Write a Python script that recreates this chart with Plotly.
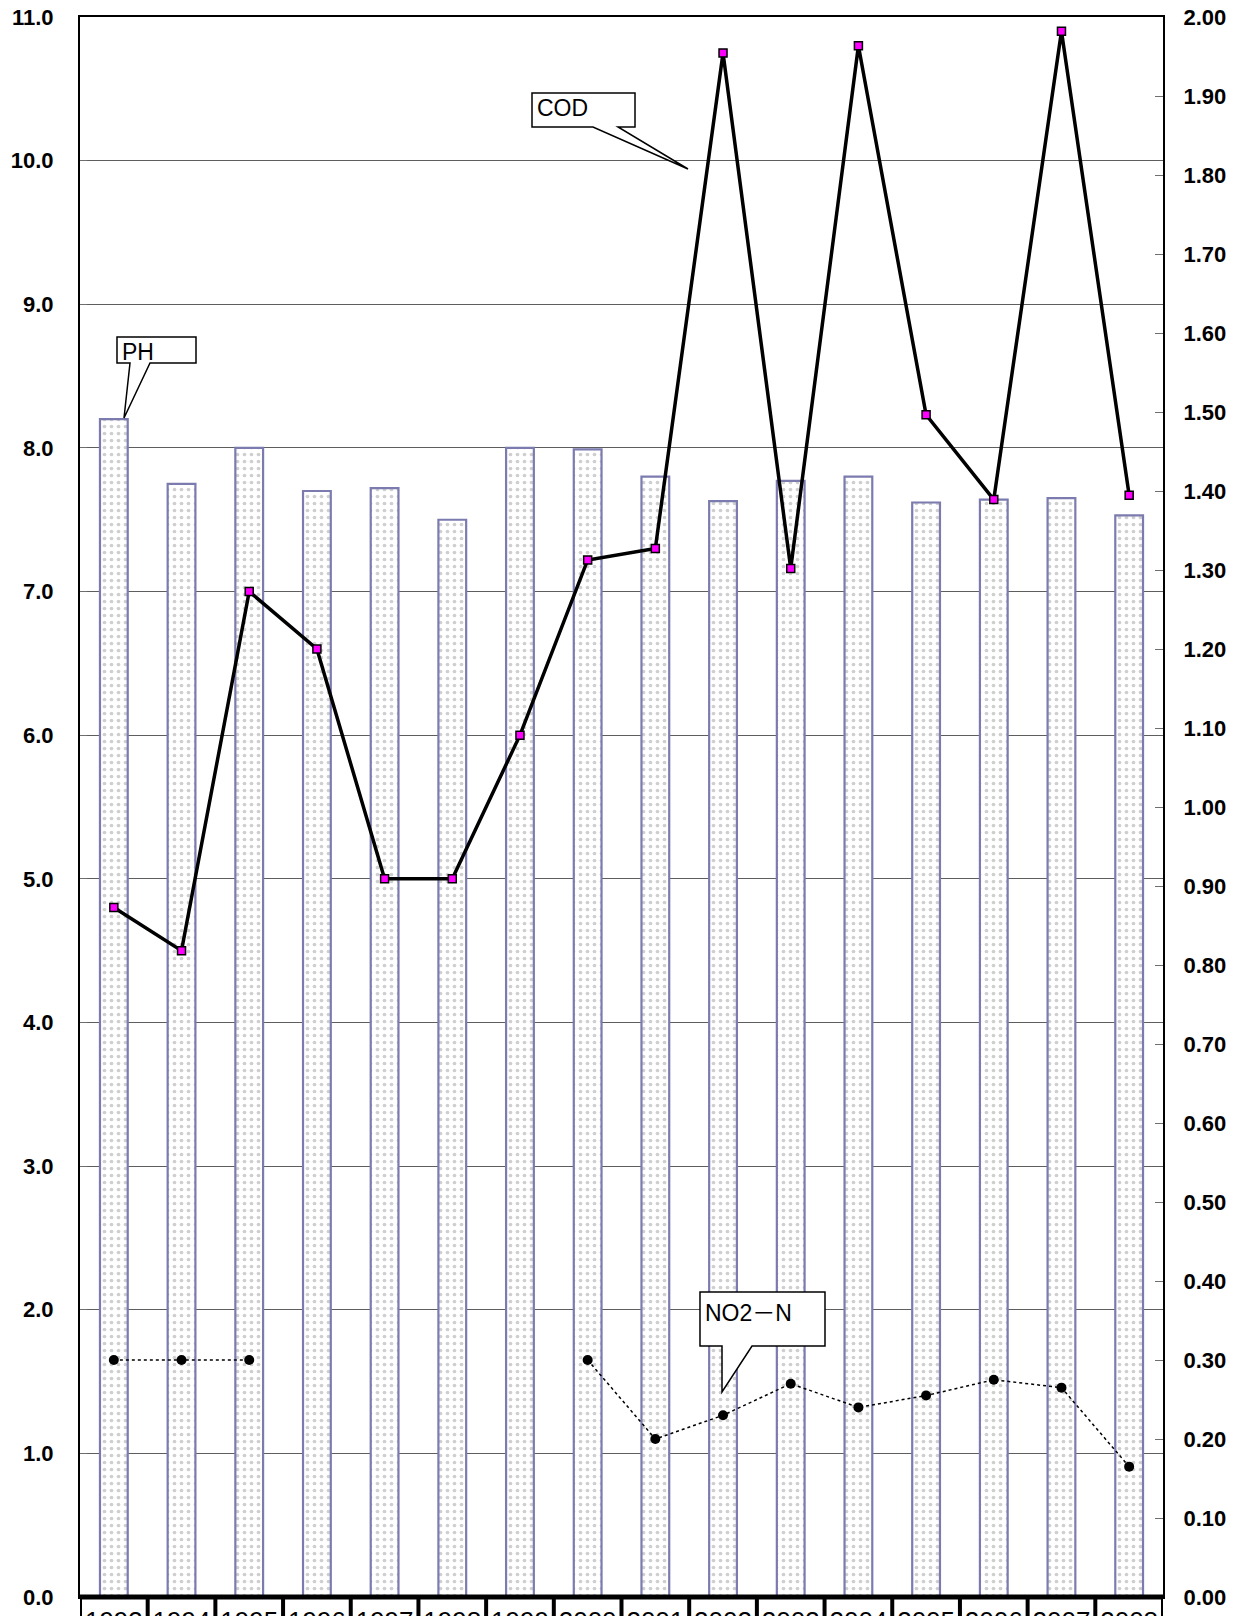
import plotly.graph_objects as go

years = ["1993", "1994", "1995", "1996", "1997", "1998", "1999", "2000",
         "2001", "2002", "2003", "2004", "2005", "2006", "2007", "2008"]
ph = [8.2, 7.75, 8.0, 7.7, 7.72, 7.5, 8.0, 7.99, 7.8, 7.63, 7.77, 7.8, 7.62, 7.64, 7.65, 7.53]
cod = [4.8, 4.5, 7.0, 6.6, 5.0, 5.0, 6.0, 7.22, 7.3, 10.75, 7.16, 10.8, 8.23, 7.64, 10.9, 7.67]
no2n = [0.30, 0.30, 0.30, None, None, None, None, 0.30, 0.20, 0.23, 0.27, 0.24, 0.255, 0.275, 0.265, 0.165]

left_ticks = [i for i in range(0, 12)]
right_ticks = [i / 10 for i in range(0, 21)]

# page offset of the figure (browser default body margin)
OFF = 8
W, H = 1241, 1616
# target plot-area edges in page pixels
P_L, P_R, P_T, P_B = 80, 1163, 17, 1597
L, T = P_L - OFF, P_T - OFF
R = W - (P_R - OFF)
B = H - (P_B - OFF)
pw, ph_px = W - L - R, H - T - B

def px(x):
    return (x - OFF - L) / pw

def py(y):
    return (H - B - (y - OFF)) / ph_px

fig = go.Figure()

fig.add_trace(go.Bar(
    x=years, y=ph, name="PH", width=0.41,
    marker=dict(color="white",
                line=dict(color="#7b7bb0", width=2.2),
                pattern=dict(shape=".", fgcolor="#a0a0a0", bgcolor="white", size=7, solidity=0.22)),
))

fig.add_trace(go.Scatter(
    x=years, y=cod, name="COD", mode="lines+markers",
    line=dict(color="black", width=3.5),
    marker=dict(symbol="square", size=8, color="#ff00ff", line=dict(color="black", width=1.5)),
))

fig.add_trace(go.Scatter(
    x=years, y=no2n, name="NO2－N", mode="lines+markers", yaxis="y2",
    connectgaps=False,
    line=dict(color="black", width=1.5, dash="dot"),
    marker=dict(symbol="circle", size=10, color="black"),
))

tick_font = dict(family="Liberation Sans, Arial", size=22, color="black", weight="bold")

fig.update_layout(
    width=W, height=H,
    margin=dict(l=L, r=R, t=T, b=B, pad=0, autoexpand=False),
    paper_bgcolor="white", plot_bgcolor="white",
    showlegend=False,
    xaxis=dict(
        type="category", range=[-0.5, len(years) - 0.5],
        showgrid=False, ticks="", showline=True, linecolor="black",
        linewidth=2, mirror=True, automargin=False,
        tickfont=dict(family="Liberation Sans, Arial", size=26, color="black"),
        ticklabelstandoff=0, ticklabeloverflow="allow",
    ),
    yaxis=dict(
        range=[0, 11], tickvals=left_ticks, tickformat=".1f",
        showgrid=True, gridcolor="#5e5e5e", gridwidth=1.3,
        showline=True, linecolor="black", linewidth=2,
        ticks="inside", ticklen=7, tickcolor="#6e6e6e",
        tickfont=tick_font, automargin=False, ticklabeloverflow="allow",
        ticklabelstandoff=20, zeroline=False,
    ),
    yaxis2=dict(
        range=[0, 2], tickvals=right_ticks, tickformat=".2f",
        overlaying="y", side="right", showgrid=False,
        showline=True, linecolor="black", linewidth=2,
        ticks="inside", ticklen=8, tickcolor="#6e6e6e",
        tickfont=tick_font, automargin=False, ticklabeloverflow="allow",
        ticklabelstandoff=14, zeroline=False,
    ),
)

# data-table-like boxes under the category axis
shapes = []
shapes.append(dict(type="line", xref="paper", yref="paper", x0=0, x1=1, y0=0, y1=0,
                   line=dict(color="black", width=5)))
for i in range(len(years) + 1):
    shapes.append(dict(type="line", xref="x", yref="paper", x0=i - 0.5, x1=i - 0.5,
                       y0=0, y1=-0.05, line=dict(color="black", width=4)))

# callouts (page pixel coordinates)
def callout(box, tail, tip):
    x0, y0, x1, y1 = box
    ta, tb = tail
    tx, ty = tip
    pts = [(x0, y0), (x1, y0), (x1, y1), (tb, y1), (tx, ty), (ta, y1), (x0, y1)]
    path = "M " + " L ".join(f"{px(a):.5f},{py(b):.5f}" for a, b in pts) + " Z"
    return dict(type="path", xref="paper", yref="paper", path=path,
                fillcolor="white", line=dict(color="black", width=1.5), layer="above")

shapes.append(callout((117, 337, 196, 363), (130, 150), (124, 418)))
shapes.append(callout((532, 93, 635, 127), (593, 618), (688, 169)))
shapes.append(callout((700, 1292, 825, 1346), (722, 752), (722, 1392)))

fig.update_layout(shapes=shapes)

lab_font = dict(family="Liberation Sans, Arial", size=23, color="black")
annots = [
    ("PH", 120, 337),
    ("COD", 535, 93),
    ("NO2<span style=\"font-family:'Noto Sans CJK JP'\">－</span>N", 703, 1292),
]
fig.update_layout(annotations=[
    dict(text=t, xref="paper", yref="paper", x=px(x), y=py(y), xanchor="left", yanchor="top",
         showarrow=False, font=lab_font)
    for t, x, y in annots
])

fig.write_html("out.html")
